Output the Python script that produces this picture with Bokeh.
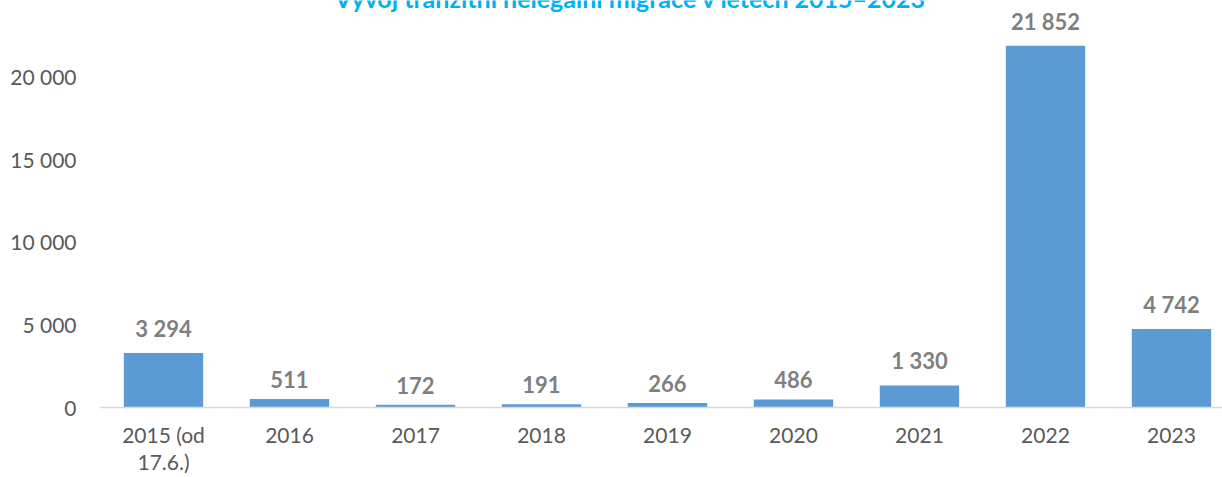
from bokeh.plotting import figure
from bokeh.models import Range1d, FixedTicker, Label
from bokeh.embed import file_html
from bokeh.resources import INLINE

categories = ["2015 (od\n17.6.)", "2016", "2017", "2018", "2019", "2020", "2021", "2022", "2023"]
values = [3294, 511, 172, 191, 266, 486, 1330, 21852, 4742]
y_ticks = [0, 5000, 10000, 15000, 20000]
title = "Vývoj tranzitní nelegální migrace v letech 2015–2023"

def fmt(v):
    return f"{v:,}".replace(",", " ")

idx = list(range(len(categories)))
y_end = 24592

p = figure(width=1222, height=477, output_backend="svg", toolbar_location=None,
           x_range=Range1d(-0.5, 8.405), y_range=Range1d(0, y_end),
           min_border_left=100, min_border_right=0, min_border_top=0, min_border_bottom=70)

p.vbar(x=idx, top=values, width=0.63, color="#5B9BD5", line_color=None)

for i, v in zip(idx, values):
    p.add_layout(Label(x=i, y=v, text=fmt(v), text_align="center", text_baseline="bottom",
                       y_offset=11, text_color="#7F7F7F", text_font_style="bold",
                       text_font_size="22px", text_font="Lato"))

p.add_layout(Label(x=3.706, y=y_end, text=title, text_align="center",
                   text_baseline="alphabetic", y_offset=3, text_color="#00B0F0",
                   text_font_style="bold", text_font_size="25px", text_font="Lato"))

p.xaxis.ticker = FixedTicker(ticks=idx)
p.xaxis.major_label_overrides = {i: c for i, c in zip(idx, categories)}
p.xaxis.axis_line_color = "#D9D9D9"
p.xaxis.axis_line_width = 1.5
p.xaxis.major_tick_line_color = None
p.xaxis.minor_tick_line_color = None
p.xaxis.major_tick_out = 0
p.xaxis.major_label_standoff = 14
p.xaxis.major_label_text_font = "Lato"
p.xaxis.major_label_text_font_size = "21px"
p.xaxis.major_label_text_color = "#595959"
p.xaxis.major_label_text_line_height = 1.1

p.yaxis.ticker = FixedTicker(ticks=y_ticks)
p.yaxis.major_label_overrides = {t: fmt(t) for t in y_ticks}
p.yaxis.axis_line_color = None
p.yaxis.major_tick_line_color = None
p.yaxis.minor_tick_line_color = None
p.yaxis.major_tick_out = 0
p.yaxis.major_label_standoff = 24
p.yaxis.major_label_text_font = "Lato"
p.yaxis.major_label_text_font_size = "21px"
p.yaxis.major_label_text_color = "#595959"

p.xgrid.grid_line_color = None
p.ygrid.grid_line_color = None
p.outline_line_color = None

open("out.html", "w").write(file_html(p, INLINE))
